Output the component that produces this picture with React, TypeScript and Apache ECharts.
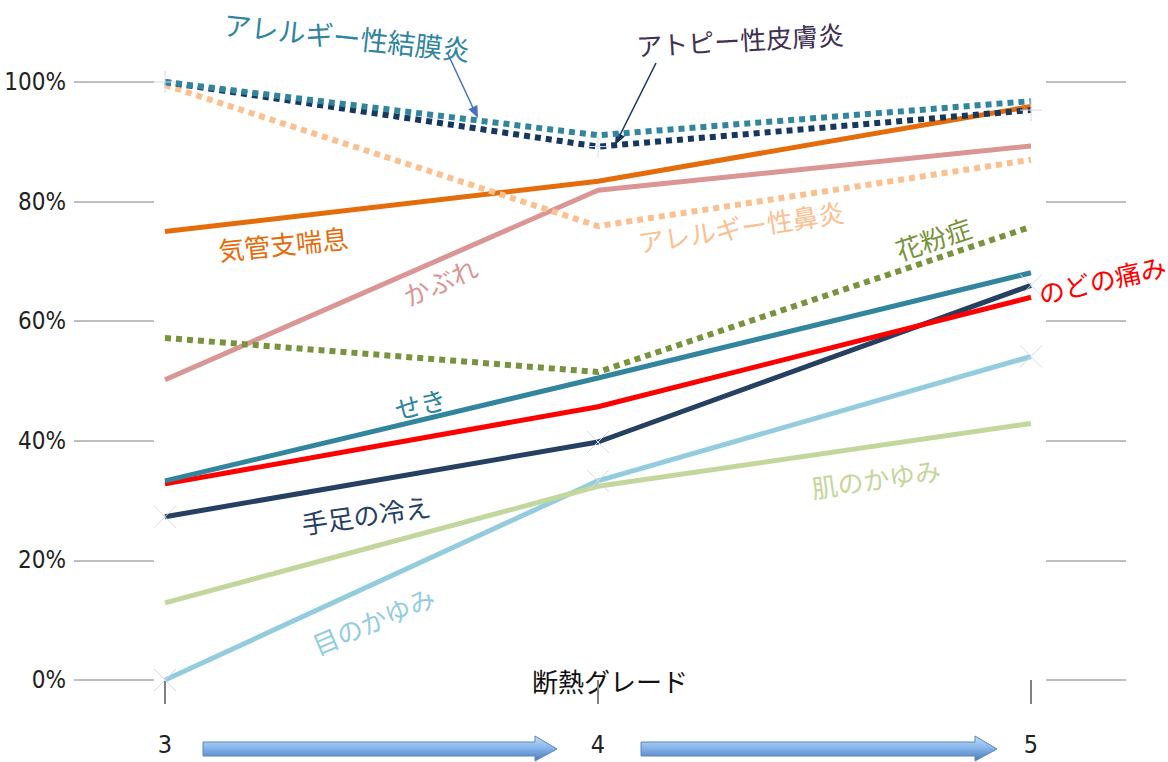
import React, { useEffect, useRef } from "react";
import * as echarts from "echarts";

const categories = ["3", "4", "5"];
const yTicks = { min: 0, max: 100, interval: 20 };

// values in %
const conjunctivitis = [100, 91.1, 96.8]; // アレルギー性結膜炎
const atopy = [100, 89.2, 95.3]; // アトピー性皮膚炎
const rhinitis = [99.5, 75.9, 87.0]; // アレルギー性鼻炎
const asthma = [75.0, 83.4, 95.9]; // 気管支喘息
const rash = [50.2, 81.9, 89.3]; // かぶれ
const pollen = [57.2, 51.5, 75.8]; // 花粉症
const cough = [33.3, 50.5, 68.1]; // せき
const throat = [32.8, 45.7, 64.0]; // のどの痛み
const coldness = [27.3, 39.8, 66.0]; // 手足の冷え
const skinItch = [12.9, 32.4, 42.9]; // 肌のかゆみ
const eyeItch = [0, 33.3, 54.1]; // 目のかゆみ

const JP = "'Noto Sans CJK JP', 'Noto Sans', sans-serif";
const NUM = "'Liberation Sans Narrow', 'DejaVu Sans Condensed', 'Noto Sans', sans-serif";

const CROSS = "path://M0,0L10,10M10,0L0,10";
const PLUS = "path://M5,0L5,10M0,5L10,5";

function solid(name: string, data: number[], color: string, marker?: string) {
  return {
    name,
    type: "line",
    data,
    showSymbol: !!marker,
    symbol: marker || "none",
    symbolSize: 22,
    itemStyle: { color: "rgba(0,0,0,0)", borderColor: "#d8d8ec", borderWidth: 1 },
    lineStyle: { color, width: 5, type: "solid", cap: "butt" },
    emphasis: { disabled: true },
    z: 2,
  };
}
function dotted(name: string, data: number[], color: string, marker?: string) {
  return {
    name,
    type: "line",
    data,
    showSymbol: !!marker,
    symbol: marker || "none",
    symbolSize: 22,
    itemStyle: { color: "rgba(0,0,0,0)", borderColor: "#d8d8ec", borderWidth: 1 },
    lineStyle: { color, width: 6, type: [6, 5], cap: "butt" },
    emphasis: { disabled: true },
    z: 3,
  };
}

function label(text: string, x: number, y: number, rot: number, color: string, size = 26) {
  return {
    type: "text",
    x,
    y,
    rotation: (rot * Math.PI) / 180,
    silent: true,
    style: {
      text,
      fill: color,
      font: `${size}px ${JP}`,
      align: "center",
      verticalAlign: "middle",
    },
    z: 10,
  };
}

function blockArrow(x0: number, x1: number) {
  const headBase = x1 - 22;
  return {
    type: "polygon",
    silent: true,
    shape: {
      points: [
        [x0, 742],
        [headBase, 742],
        [headBase, 736],
        [x1, 749],
        [headBase, 761],
        [headBase, 756],
        [x0, 756],
      ],
    },
    style: {
      fill: new echarts.graphic.LinearGradient(0, 0, 0, 1, [
        { offset: 0, color: "#c3dcf7" },
        { offset: 0.45, color: "#8ab8ec" },
        { offset: 1, color: "#4a78b8" },
      ]),
      stroke: "#5b86c2",
      lineWidth: 1,
    },
  };
}

export default function App() {
  const ref = useRef<HTMLDivElement>(null);
  useEffect(() => {
    if (!ref.current) return;
    const chart = echarts.init(ref.current, null, { renderer: "svg" });
    chart.setOption({
      animation: false,
      backgroundColor: "#ffffff",
      grid: { left: 165, right: 137, top: 82, bottom: 82, containLabel: false },
      xAxis: {
        type: "category",
        data: categories,
        boundaryGap: false,
        offset: 16,
        axisLine: { show: false },
        axisTick: { show: true, length: 24, alignWithLabel: true, lineStyle: { color: "#808080", width: 2 } },
        axisLabel: { margin: 36, fontSize: 25, color: "#222", fontFamily: NUM },
        splitLine: { show: false },
      },
      yAxis: [
        {
          type: "value",
          position: "left",
          ...yTicks,
          offset: 11,
          axisLine: { show: false },
          axisTick: { show: true, length: 80, lineStyle: { color: "#BFBFBF", width: 2 } },
          axisLabel: { formatter: "{value}%", margin: 88, fontSize: 24, color: "#222", fontFamily: NUM },
          splitLine: { show: false },
        },
        {
          type: "value",
          position: "right",
          ...yTicks,
          offset: 15,
          axisLine: { show: false },
          axisTick: { show: true, length: 80, lineStyle: { color: "#BFBFBF", width: 2 } },
          axisLabel: { show: false },
          splitLine: { show: false },
        },
      ],
      series: [
        solid("目のかゆみ", eyeItch, "#93CDDD", CROSS),
        solid("肌のかゆみ", skinItch, "#C3D69B"),
        solid("手足の冷え", coldness, "#254061", CROSS),
        solid("のどの痛み", throat, "#FF0000"),
        solid("せき", cough, "#31859C"),
        dotted("花粉症", pollen, "#77933C"),
        solid("かぶれ", rash, "#D99694"),
        solid("気管支喘息", asthma, "#E46C0A"),
        dotted("アレルギー性鼻炎", rhinitis, "#FAC090"),
        dotted("アトピー性皮膚炎", atopy, "#17375E", PLUS),
        dotted("アレルギー性結膜炎", conjunctivitis, "#31859C"),
      ],
      graphic: [
        label("アレルギー性結膜炎", 347, 36, -6, "#31859C", 27.5),
        label("アトピー性皮膚炎", 740, 39, 3.3, "#403152"),
        label("気管支喘息", 283, 243, 5.8, "#E46C0A"),
        label("アレルギー性鼻炎", 741, 226, 8.7, "#FAC090"),
        label("かぶれ", 440, 281, 24, "#D99694"),
        label("花粉症", 933, 238, 18.5, "#77933C"),
        label("のどの痛み", 1102, 279, 12.8, "#FF0000"),
        label("せき", 420, 403, 13.4, "#31859C"),
        label("手足の冷え", 366, 514, 8, "#254061"),
        label("肌のかゆみ", 876, 478, 8.3, "#C3D69B"),
        label("目のかゆみ", 373, 620, 23, "#93CDDD"),
        {
          type: "text",
          x: 610,
          y: 680,
          silent: true,
          style: { text: "断熱グレード", fill: "#111", font: `26px ${JP}`, align: "center", verticalAlign: "middle" },
        },
        { type: "line", silent: true, shape: { x1: 447, y1: 52, x2: 474, y2: 110 }, style: { stroke: "#4472C4", lineWidth: 1.5 } },
        { type: "polygon", silent: true, shape: { points: [[478, 118], [468.4, 109.2], [477.4, 105]] }, style: { fill: "#4472C4" } },
        { type: "line", silent: true, shape: { x1: 656, y1: 63, x2: 619, y2: 137 }, style: { stroke: "#17375E", lineWidth: 1.5 } },
        { type: "polygon", silent: true, shape: { points: [[615, 145], [615.9, 132.1], [624.9, 136.5]] }, style: { fill: "#17375E" } },
        blockArrow(203, 557),
        blockArrow(641, 997),
      ],
    });
    return () => chart.dispose();
  }, []);
  return <div ref={ref} style={{ position: "absolute", left: 0, top: 0, width: 1168, height: 762 }} />;
}
